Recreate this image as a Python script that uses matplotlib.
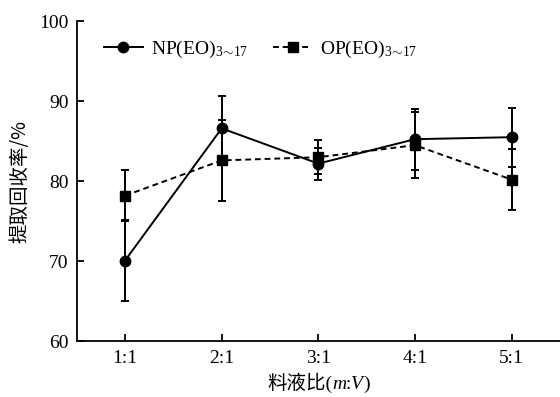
import matplotlib
matplotlib.use('Agg')
import matplotlib.pyplot as plt
from matplotlib.offsetbox import TextArea, HPacker, AnchoredOffsetbox

plt.rcParams['font.family'] = ['Liberation Serif', 'Noto Sans CJK SC']
plt.rcParams['mathtext.fontset'] = 'custom'
plt.rcParams['mathtext.rm'] = 'Liberation Serif'
plt.rcParams['mathtext.it'] = 'Liberation Serif:italic'

# dados
ratios = ['1:1', '2:1', '3:1', '4:1', '5:1']
np_eo = [70.1, 86.6, 82.2, 85.25, 85.5]
np_err = [5.0, 4.0, 2.0, 3.8, 3.7]
op_eo = [78.2, 82.6, 83.0, 84.5, 80.2]
op_err = [3.2, 5.1, 2.1, 4.1, 3.8]

x = list(range(1, len(ratios) + 1))

fig = plt.figure(figsize=(5.6, 3.97), dpi=100)
ax = fig.add_axes([0.137, 0.140, 0.863, 0.807])

lw = 1.4
ax.errorbar(x, np_eo, yerr=np_err, fmt='none', ecolor='black',
            elinewidth=lw, capsize=2.8, capthick=lw)
ax.errorbar(x, op_eo, yerr=op_err, fmt='none', ecolor='black',
            elinewidth=lw, capsize=2.8, capthick=lw)
ax.plot(x, np_eo, color='black', marker='o', markersize=7.5, linestyle='-',
        linewidth=lw, label=r'NP(EO)$_{3\!\sim\!17}$')
ax.plot(x, op_eo, color='black', marker='s', markersize=7, linestyle=(0, (3, 2)),
        linewidth=lw, label=r'OP(EO)$_{3\!\sim\!17}$')

ax.set_xlim(0.5, 5.5)
ax.set_ylim(60, 100)
ax.set_xticks(x)
ax.set_xticklabels(ratios)
ax.set_yticks([60, 70, 80, 90, 100])

ax.spines['top'].set_visible(False)
ax.spines['right'].set_visible(False)
ax.spines['left'].set_linewidth(1.3)
ax.spines['bottom'].set_linewidth(1.3)
ax.tick_params(direction='in', length=5, width=1.3, labelsize=14, pad=6)

# rótulo do eixo x com m e V em itálico
partes = [('料液比(', 'normal'), ('m', 'italic'), (':', 'normal'),
          ('V', 'italic'), (')', 'normal')]
caixas = [TextArea(t, textprops=dict(fontsize=14, style=s,
                                    family=['Liberation Serif', 'Noto Sans CJK SC']))
          for t, s in partes]
pack = HPacker(children=caixas, align='baseline', pad=0, sep=0)
xlab = AnchoredOffsetbox(loc='center', child=pack, frameon=False, pad=0,
                         bbox_to_anchor=(0.5, -0.13), bbox_transform=ax.transAxes,
                         borderpad=0)
ax.add_artist(xlab)

ax.set_ylabel('提取回收率/%', fontsize=14, family=['Noto Sans CJK SC'], labelpad=6)

ax.legend(loc='upper left', ncol=2, frameon=False, fontsize=14,
          handlelength=2.0, columnspacing=1.3, handletextpad=0.4,
          bbox_to_anchor=(0.02, 1.0))

fig.savefig('out.png', dpi=100)
